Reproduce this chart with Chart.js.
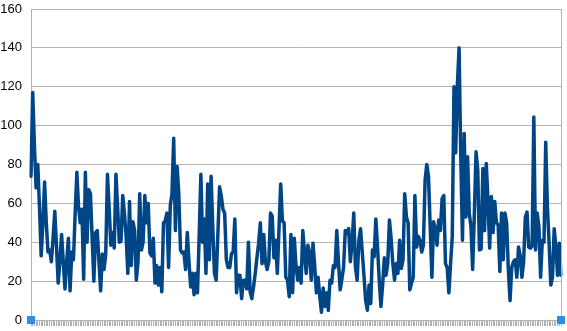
<!DOCTYPE html>
<html>
<head>
<meta charset="utf-8">
<script src="https://cdn.jsdelivr.net/npm/chart.js@4"></script>
<style>
    html, body { margin: 0; padding: 0; background: #ffffff; }
    #wrap { width: 567px; height: 331px; position: relative; }
</style>
</head>
<body>
<div id="wrap"><canvas id="lineChart"></canvas></div>
<script>
// values, left to right
const values = [
    74, 117, 90, 68, 80, 58, 33, 50, 71, 50,
    35, 36, 30, 42, 56, 38, 19, 30, 44, 30,
    16, 30, 42, 15, 35, 31, 55, 76, 58, 50,
    57, 21, 76, 40, 67, 65, 42, 20, 45, 46,
    30, 15, 34, 26, 34, 75, 58, 38.5, 45, 37,
    75, 58, 40, 40.5, 64, 55, 43, 24, 61, 28,
    50.5, 46, 20.5, 30, 65, 36, 40, 64, 50, 60,
    34.5, 33, 42, 19, 28, 18, 27, 14.5, 50, 51,
    55, 27, 59, 65, 93.5, 46, 79, 65, 36, 34.5,
    35, 26, 45, 30, 17, 24, 13, 24, 14, 43,
    75, 40, 52, 24, 70, 31, 74, 48, 24, 20.5,
    44, 68.5, 64, 57, 55, 31, 27, 27, 34, 35, 52,
    14, 23, 23, 11, 20.5, 20.5, 16, 40, 14.5, 11,
    17, 24, 32, 39.5, 50, 29, 44, 30, 26, 30, 55, 53.5,
    32, 41, 24, 47, 70, 51, 50, 22, 20.5, 12, 44,
    14, 42, 28, 20.5, 27, 19, 46, 35, 24, 38.5, 34.5,
    20.5, 39.5, 28, 14, 22, 12, 4, 16.5, 7, 14, 5,
    20.5, 19, 28, 27, 46, 30, 15.5, 21, 27, 46, 44.5, 47,
    30, 39.5, 55, 27, 20.5, 41, 47, 35, 23, 10, 5,
    18, 8.5, 36, 32.5, 52, 37.5, 20.5, 7, 18, 32,
    23, 29, 51.5, 42, 29, 20.5, 29, 24, 41, 26.5,
    31, 65, 53, 50, 15.5, 19, 22, 64, 37.5, 43,
    41, 35, 38.5, 72, 80, 74, 48, 22, 50.5, 47, 38.5, 51.5,
    46, 62.5, 64, 29, 27, 14,
    29, 43, 120, 86, 121, 140, 84, 41, 96, 53,
    84, 55, 48, 26, 55, 86.5, 77, 36, 36.5, 78, 46,
    80.5, 62, 37, 63.5, 45, 61, 50, 49, 25, 55,
    31, 55, 50, 26, 10, 27, 30, 31, 22, 37.5,
    33, 22, 30, 53, 55.5, 37.5, 37, 38, 104.5, 36,
    55, 48, 22, 41, 40, 91.5, 58, 39.5, 18, 22,
    47, 37.5, 23, 39.5, 23
];

const labels = values.map((_, i) => String(i + 1));

const yMin = 0;
const yMax = 160;
const yStep = 20;

// plot frame on the right + the little blue handles on the x axis
const framePlugin = {
    id: 'frame',
    afterDraw(chart) {
        const { ctx, chartArea } = chart;
        ctx.save();
        ctx.strokeStyle = '#b3b3b3';
        ctx.lineWidth = 1;
        ctx.beginPath();
        ctx.moveTo(Math.round(chartArea.right) + 0.5, chartArea.top);
        ctx.lineTo(Math.round(chartArea.right) + 0.5, chartArea.bottom);
        ctx.stroke();

        ctx.fillStyle = '#2a8fe6';
        const s = 8;
        const y = chartArea.bottom - 4;
        ctx.fillRect(chartArea.left - 4, y, s, s);
        ctx.fillRect(chartArea.right - 4, y, s, s);
        ctx.restore();
    }
};

const ctx = document.getElementById('lineChart').getContext('2d');

new Chart(ctx, {
    type: 'line',
    data: {
        labels,
        datasets: [{
            data: values,
            borderColor: '#004586',
            borderWidth: 3.5,
            borderJoinStyle: 'round',
            borderCapStyle: 'round',
            pointRadius: 0,
            tension: 0,
            fill: false
        }]
    },
    options: {
        responsive: true,
        maintainAspectRatio: false,
        animation: false,
        layout: { padding: { top: 9, right: 6, bottom: 5, left: 0 } },
        plugins: {
            legend: { display: false },
            tooltip: { enabled: false }
        },
        scales: {
            x: {
                offset: false,
                border: { display: true, color: '#b3b3b3' },
                grid: {
                    drawOnChartArea: false,
                    drawTicks: true,
                    tickLength: 6,
                    color: '#b0b0b0'
                },
                ticks: { display: false, autoSkip: false },
                afterFit(scale) { scale.height = 6; }
            },
            y: {
                min: yMin,
                max: yMax,
                border: { display: true, color: '#b3b3b3' },
                grid: { color: '#b3b3b3', drawTicks: false },
                ticks: {
                    stepSize: yStep,
                    padding: 9,
                    color: '#000000',
                    font: { family: 'Liberation Sans', size: 13 }
                },
                afterFit(scale) {
                    scale.width = 31;
                    scale.paddingTop = 0;
                    scale.paddingBottom = 0;
                }
            }
        }
    },
    plugins: [framePlugin]
});
</script>
</body>
</html>
